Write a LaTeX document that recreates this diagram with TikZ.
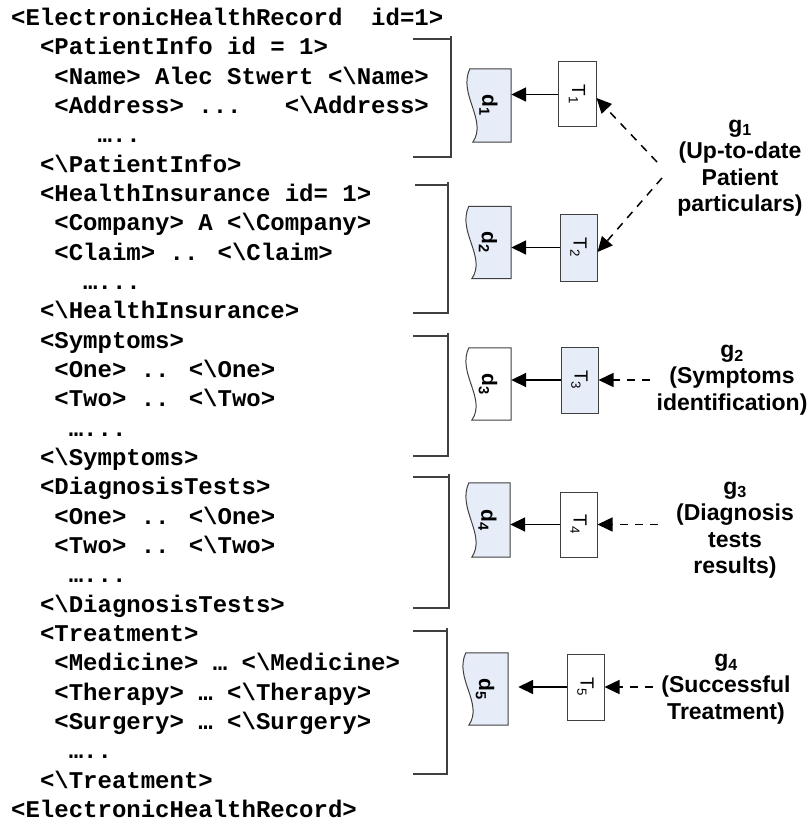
\documentclass[tikz,border=0pt]{standalone}
\usepackage{fontspec}
\setmainfont{Liberation Sans}
\newfontfamily\codefont{Liberation Mono}
\usepackage{graphicx}
\usetikzlibrary{arrows.meta,calc,backgrounds}
\definecolor{docblue}{RGB}{231,237,248}
\definecolor{edge}{RGB}{64,64,64}
\newcommand\bsl{\textbackslash}
\newcommand\codeln[4]{\node[code] (#1) at ({11+#2*14.4},{25.5+(#3-1)*29.33}) {#4};}
\newcommand\docpath[2]{%
  \draw[docline,fill=#2] (#1.north east) -- ([xshift=4pt]#1.north west)
    .. controls ($(#1.north west)!0.35!(#1.south west)+(-8,0)$) and ($(#1.south west)!0.3!(#1.north west)+(22,0)$) ..
    ([xshift=7pt]#1.south west) -- (#1.south east) -- cycle;}
\begin{document}
\begin{tikzpicture}[x=1pt,y=-1pt,
  code/.style={font=\codefont\bfseries\fontsize{24}{29}\selectfont, anchor=base west, inner sep=0pt},
  docnode/.style={minimum width=46pt, minimum height=72pt, inner sep=0pt, font=\bfseries\fontsize{21}{21}\selectfont},
  tbox/.style={draw=edge, line width=1pt, minimum width=37pt, minimum height=66pt, inner sep=0pt, font=\fontsize{19}{19}\selectfont},
  glabel/.style={font=\bfseries\fontsize{23}{26.5}\selectfont, align=center, inner sep=0pt},
  solidarrow/.style={line width=1.8pt, -{Triangle[length=15pt,width=14pt]}},
  dasharrow/.style={line width=1.5pt, dash pattern=on 8pt off 7pt, -{Triangle[length=15pt,width=14pt]}},
  brk/.style={draw=edge, line width=1.6pt},
  docline/.style={draw=edge, line width=1pt}]
\useasboundingbox (0,0) rectangle (811,821);

% code text
\codeln{c1}{0}{1}{<ElectronicHealthRecord\ \ id=1>}
\codeln{c2}{2}{2}{<PatientInfo id = 1>}
\codeln{c3}{3}{3}{<Name> Alec Stwert <\bsl Name>}
\codeln{c4}{3}{4}{<Address> ...\ \ \ <\bsl Address>}
\codeln{c5}{6}{5}{…..}
\codeln{c6}{2}{6}{<\bsl PatientInfo>}
\codeln{c7}{2}{7}{<HealthInsurance id= 1>}
\codeln{c8}{3}{8}{<Company> A <\bsl Company>}
\codeln{c9}{3}{9}{<Claim> .. <\bsl Claim>}
\codeln{c10}{5}{10}{…...}
\codeln{c11}{2}{11}{<\bsl HealthInsurance>}
\codeln{c12}{2}{12}{<Symptoms>}
\codeln{c13}{3}{13}{<One> .. <\bsl One>}
\codeln{c14}{3}{14}{<Two> .. <\bsl Two>}
\codeln{c15}{4}{15}{…...}
\codeln{c16}{2}{16}{<\bsl Symptoms>}
\codeln{c17}{2}{17}{<DiagnosisTests>}
\codeln{c18}{3}{18}{<One> .. <\bsl One>}
\codeln{c19}{3}{19}{<Two> .. <\bsl Two>}
\codeln{c20}{4}{20}{…...}
\codeln{c21}{2}{21}{<\bsl DiagnosisTests>}
\codeln{c22}{2}{22}{<Treatment>}
\codeln{c23}{3}{23}{<Medicine> … <\bsl Medicine>}
\codeln{c24}{3}{24}{<Therapy> … <\bsl Therapy>}
\codeln{c25}{3}{25}{<Surgery> … <\bsl Surgery>}
\codeln{c26}{4}{26}{…..}
\codeln{c27}{2}{27}{<\bsl Treatment>}
\codeln{c28}{0}{28}{<ElectronicHealthRecord>}

% brackets
\draw[brk] (413,39) -- (451,39) (451,36) -- (451,157) -- (413,157);
\draw[brk] (415,185) -- (448,185) (448,182) -- (448,313) -- (413,313);
\draw[brk] (413,336) -- (448,336) (448,333) -- (448,456) -- (413,456);
\draw[brk] (413,477) -- (449,477) (449,474) -- (449,608) -- (413,608);
\draw[brk] (413,631) -- (447,631) (447,628) -- (447,774) -- (413,774);

% documents
\node[docnode, minimum width=45pt, minimum height=73pt] (d1) at (488.5,105.5) {\rotatebox{-90}{d\textsubscript{1}}};
\node[docnode] (d2) at (488,242.5) {\rotatebox{-90}{d\textsubscript{2}}};
\node[docnode] (d3) at (488,384) {\rotatebox{-90}{d\textsubscript{3}}};
\node[docnode, minimum width=45pt, minimum height=74pt] (d4) at (487.5,520) {\rotatebox{-90}{d\textsubscript{4}}};
\node[docnode] (d5) at (485,689) {\rotatebox{-90}{d\textsubscript{5}}};
\begin{scope}[on background layer]
\docpath{d1}{docblue}
\docpath{d2}{docblue}
\docpath{d3}{white}
\docpath{d4}{docblue}
\docpath{d5}{docblue}
\end{scope}

% tasks
\node[tbox, fill=white, minimum width=38pt, minimum height=65pt] (T1) at (577,94.5) {\rotatebox{-90}{T\textsubscript{1}}};
\node[tbox, fill=docblue, minimum height=67pt] (T2) at (578.5,247.5) {\rotatebox{-90}{T\textsubscript{2}}};
\node[tbox, fill=docblue] (T3) at (579.5,380) {\rotatebox{-90}{T\textsubscript{3}}};
\node[tbox, fill=white, minimum height=65pt] (T4) at (578.5,524.5) {\rotatebox{-90}{T\textsubscript{4}}};
\node[tbox, fill=white] (T5) at (585.5,687) {\rotatebox{-90}{T\textsubscript{5}}};

% goals
\node[glabel] (g1) at (740,168) {g\textsubscript{1}\\(Up-to-date\\Patient\\particulars)};
\node[glabel] (g2) at (732,380) {g\textsubscript{2}\\(Symptoms\\identification)};
\node[glabel] (g3) at (735,530) {g\textsubscript{3}\\(Diagnosis\\tests\\results)};
\node[glabel] (g4) at (726,689) {g\textsubscript{4}\\(Successful\\Treatment)};

\coordinate (g1a) at (657,162);
\coordinate (g1b) at (662,178);
\coordinate (g2a) at (650,380);
\coordinate (g3a) at (658,524.5);
\coordinate (g4a) at (653,687);

% arrows task -> document
\draw[solidarrow] (T1.west) -- (T1.west -| d1.east);
\draw[solidarrow] (T2.west) -- (T2.west -| d2.east);
\draw[solidarrow] (T3.west) -- (T3.west -| d3.east);
\draw[solidarrow] (T4.west) -- (T4.west -| d4.east);
\draw[solidarrow, shorten >=10pt] (T5.west) -- (T5.west -| d5.east);

% arrows goal -> task
\draw[dasharrow] (g1a) -- ([yshift=-3.5pt]T1.east);
\draw[dasharrow] (g1b) -- ([yshift=-4.5pt]T2.east);
\draw[dasharrow] (g2a) -- (T3.east);
\draw[dasharrow] (g3a) -- (T4.east);
\draw[dasharrow] (g4a) -- (T5.east);
\end{tikzpicture}
\end{document}
